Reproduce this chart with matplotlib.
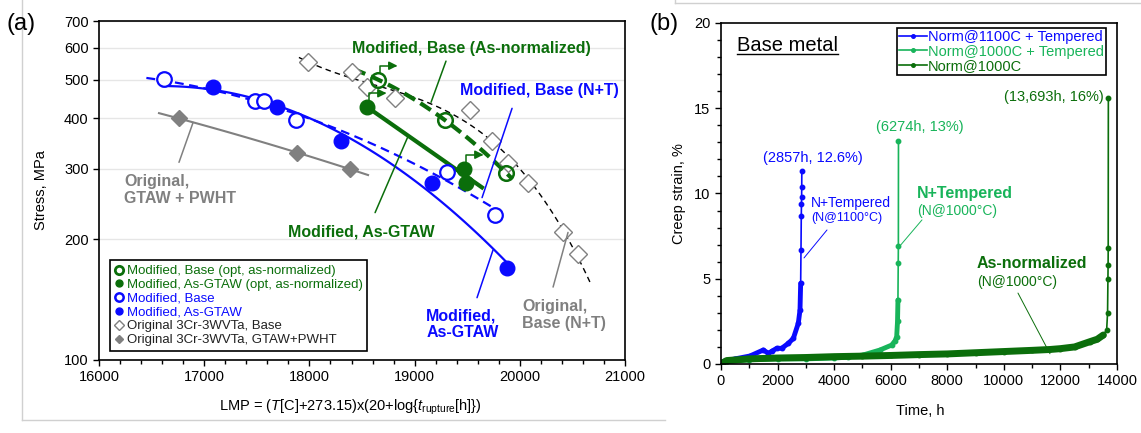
import numpy as np
import matplotlib
matplotlib.use("Agg")
import matplotlib.pyplot as plt
from matplotlib import ticker
from matplotlib.lines import Line2D
from matplotlib.transforms import offset_copy

plt.rcParams["font.family"] = ["Liberation Sans", "DejaVu Sans"]
plt.rcParams["mathtext.fontset"] = "custom"
plt.rcParams["mathtext.rm"] = "Liberation Sans"
plt.rcParams["mathtext.it"] = "Liberation Sans:italic"

BLUE = "#0a0aff"
DKGREEN = "#0b6e0b"
LTGREEN = "#18b45a"
GRAY = "#808080"

# ---- (a) rupture data: Larson-Miller parameter vs stress (MPa) ----
base_lmp = [16618, 17483, 17568, 17873, 19308, 19764]
base_mpa = [501, 441, 441, 396, 295, 230]
gtaw_lmp = [17084, 17692, 18300, 19165, 19878]
gtaw_mpa = [479, 427, 351, 277, 170]
base_opt_lmp = [18652, 19289, 19869]
base_opt_mpa = [500, 396, 293]
gtaw_opt_lmp = [18548, 19470, 19490]
gtaw_opt_mpa = [427, 300, 277]
orig_base_lmp = [17987, 18405, 18548, 18814, 19527, 19736, 19888, 20078, 20411, 20553]
orig_base_mpa = [553, 523, 479, 449, 419, 351, 310, 277, 208, 184]
orig_pwht_lmp = [16760, 17882, 18386]
orig_pwht_mpa = [400, 329, 299]

# tests still running (runout arrows)
runout_lmp = [18652, 18548, 19470]
runout_mpa = [500, 427, 300]

# ---- (b) creep curves: time (h) vs strain (%) ----
t_1100t = [0, 100, 500, 1025, 1495, 1672, 1800, 1968, 2145, 2380, 2557, 2733, 2793, 2816,
           2828, 2838, 2845, 2850, 2854, 2857]
e_1100t = [0, 0.15, 0.3, 0.47, 0.82, 0.63, 0.75, 0.92, 0.92, 1.21, 1.5, 2.39, 3.17, 4.73,
           6.7, 8.7, 9.4, 9.8, 10.4, 11.3]
t_1000t = [0, 200, 1000, 2000, 3000, 4000, 4500, 5030, 5620, 6033, 6150, 6210, 6240, 6255,
           6265, 6270, 6274]
e_1000t = [0, 0.15, 0.25, 0.3, 0.3, 0.35, 0.4, 0.53, 0.82, 1.11, 1.35, 1.6, 2.5, 3.75,
           5.9, 6.9, 13.1]
t_1000 = [0, 200, 1000, 2000, 3000, 4000, 5000, 6000, 7000, 8000, 9000, 10000, 11000,
          11630, 12000, 12500, 13045, 13300, 13515, 13633, 13665, 13678, 13684, 13688, 13693]
e_1000 = [0, 0.2, 0.3, 0.35, 0.38, 0.43, 0.46, 0.5, 0.55, 0.59, 0.66, 0.73, 0.8,
          0.85, 0.9, 1.0, 1.31, 1.45, 1.7, 2.0, 3.0, 5.0, 5.8, 6.8, 15.6]

fig = plt.figure(figsize=(11.41, 4.33), dpi=100)
ax1 = fig.add_axes([0.0868, 0.1686, 0.4610, 0.7829])
ax2 = fig.add_axes([0.6319, 0.1594, 0.3471, 0.7875])

# light panel frames
for xs, ys in [([0.0197, 0.0197], [1.0, 0.030]), ([0.0197, 0.583], [0.030, 0.030]),
               ([0.5916, 1.0], [0.993, 0.993]), ([0.5916, 0.5916], [0.993, 1.0])]:
    fig.add_artist(Line2D(xs, ys, transform=fig.transFigure, color="#d0d0d0", lw=1))


def fit_curve(ax, x, y, deg, lo, hi, **kw):
    # polynomial fit of log10(stress) against LMP
    p = np.polyfit(x, np.log10(y), deg)
    xx = np.linspace(lo, hi, 100)
    ax.plot(xx, 10 ** np.polyval(p, xx), **kw)


# ---------------- (a) ----------------
ax1.set_yscale("log")
ax1.set_xlim(16000, 21000)
ax1.set_ylim(100, 700)
ax1.grid(axis="y", color="#e6e6e6", lw=1)
ax1.set_axisbelow(True)

fit_curve(ax1, orig_pwht_lmp, orig_pwht_mpa, 2, 16570, 18557, color=GRAY, lw=1.5)
fit_curve(ax1, orig_base_lmp, orig_base_mpa, 3, 17900, 20670, color="black", lw=1,
          ls=(0, (4, 3)))
fit_curve(ax1, base_lmp, base_mpa, 2, 16450, 19830, color=BLUE, lw=1.6, ls=(0, (4, 2.5)))
fit_curve(ax1, gtaw_lmp, gtaw_mpa, 2, 16600, 19900, color=BLUE, lw=1.6)
fit_curve(ax1, base_opt_lmp, base_opt_mpa, 2, 18420, 19925, color=DKGREEN, lw=3,
          ls=(0, (3, 1.5)))
fit_curve(ax1, gtaw_opt_lmp, gtaw_opt_mpa, 1, 18548, 19640, color=DKGREEN, lw=3)

ax1.plot(orig_base_lmp, orig_base_mpa, "D", ms=9, mfc="white", mec=GRAY, mew=1, zorder=3)
ax1.plot(orig_pwht_lmp, orig_pwht_mpa, "D", ms=8, color=GRAY, zorder=3)
ax1.plot(base_lmp, base_mpa, "o", ms=10.5, mfc="white", mec=BLUE, mew=1.6, zorder=4)
ax1.plot(gtaw_lmp, gtaw_mpa, "o", ms=10.5, color=BLUE, zorder=4)
ax1.plot(base_opt_lmp, base_opt_mpa, "o", ms=10.5, mfc="none", mec=DKGREEN, mew=1.8, zorder=5)
ax1.plot(gtaw_opt_lmp, gtaw_opt_mpa, "o", ms=10.5, color=DKGREEN, zorder=5)

for x, y in zip(runout_lmp, runout_mpa):
    start = offset_copy(ax1.transData, fig=fig, x=1.5, y=4.5, units="points")
    tip = offset_copy(ax1.transData, fig=fig, x=14, y=10, units="points")
    ax1.annotate("", xy=(x, y), xycoords=tip, xytext=(x, y), textcoords=start,
                 arrowprops=dict(arrowstyle="-|>,head_length=0.5,head_width=0.25",
                                 color=DKGREEN, lw=1.1, shrinkA=0, shrinkB=0,
                                 connectionstyle="angle,angleA=90,angleB=180,rad=0"),
                 zorder=6)

# curve labels with leader lines
leaders = [
    ((19298, 556), (19156, 439), DKGREEN),
    ((18937, 361), (18624, 233), DKGREEN),
    ((19926, 424), (19641, 254), BLUE),
    ((19745, 188), (19593, 143), BLUE),
    ((20458, 208), (20316, 152), GRAY),
    ((16894, 391), (16760, 311), GRAY),
]
for (x0, y0), (x1, y1), c in leaders:
    ax1.annotate("", xy=(x0, y0), xytext=(x1, y1),
                 arrowprops=dict(arrowstyle="-", color=c, lw=1.1, shrinkA=0, shrinkB=0))

lab = dict(fontsize=11.5, fontweight="bold", transform=ax1.transAxes, linespacing=1.15)
ax1.text(0.707, 0.920, "Modified, Base (As-normalized)", color=DKGREEN, ha="center",
         va="center", **lab)
ax1.text(0.837, 0.794, "Modified, Base (N+T)", color=BLUE, ha="center", va="center", **lab)
ax1.text(0.499, 0.378, "Modified, As-GTAW", color=DKGREEN, ha="center", va="center", **lab)
ax1.text(0.622, 0.105, "Modified,\nAs-GTAW", color=BLUE, ha="left", va="center", **lab)
ax1.text(0.804, 0.133, "Original,\nBase (N+T)", color=GRAY, ha="left", va="center", **lab)
ax1.text(0.048, 0.501, "Original,\nGTAW + PWHT", color=GRAY, ha="left", va="center", **lab)

handles = [
    Line2D([], [], ls="", marker="o", ms=6, mfc="white", mec=DKGREEN, mew=2),
    Line2D([], [], ls="", marker="o", ms=5, color=DKGREEN),
    Line2D([], [], ls="", marker="o", ms=6, mfc="white", mec=BLUE, mew=1.8),
    Line2D([], [], ls="", marker="o", ms=5, color=BLUE),
    Line2D([], [], ls="", marker="D", ms=5, mfc="white", mec=GRAY, mew=1),
    Line2D([], [], ls="", marker="D", ms=4, color=GRAY),
]
labels = ["Modified, Base (opt, as-normalized)", "Modified, As-GTAW (opt, as-normalized)",
          "Modified, Base", "Modified, As-GTAW", "Original 3Cr-3WVTa, Base",
          "Original 3Cr-3WVTa, GTAW+PWHT"]
leg = ax1.legend(handles, labels, loc="lower left", bbox_to_anchor=(0.021, 0.027),
                 borderaxespad=0, fontsize=9.5, fancybox=False, edgecolor="black",
                 framealpha=1, handlelength=0.6, handletextpad=0.3, labelspacing=0.12,
                 borderpad=0.35)
leg.get_frame().set_linewidth(1.2)
for txt, c in zip(leg.get_texts(), [DKGREEN, DKGREEN, BLUE, BLUE, "#222222", "#222222"]):
    txt.set_color(c)

ax1.set_yticks([100, 200, 300, 400, 500, 600, 700])
ax1.yaxis.set_major_formatter(ticker.FixedFormatter(["100", "200", "300", "400", "500",
                                                      "600", "700"]))
ax1.yaxis.set_minor_locator(ticker.NullLocator())
ax1.xaxis.set_major_locator(ticker.MultipleLocator(1000))
ax1.xaxis.set_minor_locator(ticker.MultipleLocator(200))
ax1.tick_params(which="both", direction="out", labelsize=10.5, width=1)
ax1.tick_params(which="major", length=4)
ax1.tick_params(which="minor", length=3)
for s in ax1.spines.values():
    s.set_linewidth(1.2)
ax1.set_ylabel("Stress, MPa", fontsize=10.5)
ax1.yaxis.set_label_coords(-0.097, 0.5)
ax1.set_xlabel(r"LMP = ($T$[C]+273.15)x(20+log{$t_{\rm rupture}$[h]})", fontsize=10.5)
ax1.xaxis.set_label_coords(0.477, -0.11)
fig.text(0.006, 0.945, "(a)", fontsize=17, va="center", ha="left")

# ---------------- (b) ----------------
ax2.set_xlim(0, 14000)
ax2.set_ylim(0, 20)

curves = [
    (t_1100t, e_1100t, BLUE, 3.5, 14, "Norm@1100C + Tempered"),
    (t_1000t, e_1000t, LTGREEN, 3.5, 14, "Norm@1000C + Tempered"),
    (t_1000, e_1000, DKGREEN, 5.0, 19, "Norm@1000C"),
]
for t, e, c, band, n_band, name in curves:
    # dense-sampled portion drawn as a band, the final jump as a thin line with points
    ax2.plot(t[:n_band], e[:n_band], color=c, lw=band, solid_capstyle="round",
             solid_joinstyle="round")
    ax2.plot(t, e, color=c, lw=1.2, marker="o", ms=3.2, label=name)

ax2.plot([0], [0], "o", color=DKGREEN, ms=6)

leg2 = ax2.legend(loc="upper right", bbox_to_anchor=(0.972, 0.985), borderaxespad=0,
                  fontsize=10.5, fancybox=False, edgecolor="black", framealpha=1,
                  handlelength=1.9, handletextpad=0.05, labelspacing=0.02, borderpad=0.15,
                  markerscale=0.8)
leg2.get_frame().set_linewidth(1.2)
for txt, c in zip(leg2.get_texts(), [BLUE, LTGREEN, DKGREEN]):
    txt.set_color(c)

bm = ax2.text(0.040, 0.933, "Base metal", fontsize=14.5, transform=ax2.transAxes,
              ha="left", va="center")

ax2.text(0.232, 0.604, "(2857h, 12.6%)", color=BLUE, fontsize=10.5, ha="center",
         va="center", transform=ax2.transAxes)
ax2.text(0.503, 0.695, "(6274h, 13%)", color=LTGREEN, fontsize=10.5, ha="center",
         va="center", transform=ax2.transAxes)
ax2.text(0.967, 0.783, "(13,693h, 16%)", color=DKGREEN, fontsize=10.5, ha="right",
         va="center", transform=ax2.transAxes)

ax2.text(0.227, 0.472, "N+Tempered", color=BLUE, fontsize=10, ha="left", va="center",
         transform=ax2.transAxes)
ax2.text(0.227, 0.428, "(N@1100°C)", color=BLUE, fontsize=9, ha="left", va="center",
         transform=ax2.transAxes)
ax2.text(0.495, 0.501, "N+Tempered", color=LTGREEN, fontsize=11.5, fontweight="bold",
         ha="left", va="center", transform=ax2.transAxes)
ax2.text(0.495, 0.449, "(N@1000°C)", color=LTGREEN, fontsize=10, ha="left", va="center",
         transform=ax2.transAxes)
ax2.text(0.646, 0.296, "As-normalized", color=DKGREEN, fontsize=11.5, fontweight="bold",
         ha="left", va="center", transform=ax2.transAxes)
ax2.text(0.646, 0.240, "(N@1000°C)", color=DKGREEN, fontsize=10, ha="left", va="center",
         transform=ax2.transAxes)

for (x0, y0), (x1, y1), c in [((3747, 7.86), (2934, 6.22), BLUE),
                              ((7105, 8.45), (6292, 6.86), LTGREEN),
                              ((10498, 4.16), (11630, 0.6), DKGREEN)]:
    ax2.annotate("", xy=(x1, y1), xytext=(x0, y0),
                 arrowprops=dict(arrowstyle="-", color=c, lw=0.7, shrinkA=0, shrinkB=0))

ax2.xaxis.set_major_locator(ticker.MultipleLocator(2000))
ax2.xaxis.set_minor_locator(ticker.MultipleLocator(1000))
ax2.yaxis.set_major_locator(ticker.MultipleLocator(5))
ax2.yaxis.set_minor_locator(ticker.MultipleLocator(1))
ax2.tick_params(which="both", direction="out", labelsize=10.5, width=1)
ax2.tick_params(which="major", length=4)
ax2.tick_params(which="minor", length=3)
for s in ax2.spines.values():
    s.set_linewidth(1.2)
ax2.set_ylabel("Creep strain, %", fontsize=10.5)
ax2.yaxis.set_label_coords(-0.088, 0.5)
ax2.set_xlabel("Time, h", fontsize=10.5)
ax2.xaxis.set_label_coords(0.503, -0.118)
fig.text(0.569, 0.945, "(b)", fontsize=17, va="center", ha="left")

# underline "Base metal"
fig.canvas.draw()
bb = bm.get_window_extent().transformed(ax2.transAxes.inverted())
ax2.plot([bb.x0, bb.x1], [bb.y0 + 0.003, bb.y0 + 0.003], color="black", lw=1,
         transform=ax2.transAxes, clip_on=False)

fig.savefig("out.png", dpi=100)
